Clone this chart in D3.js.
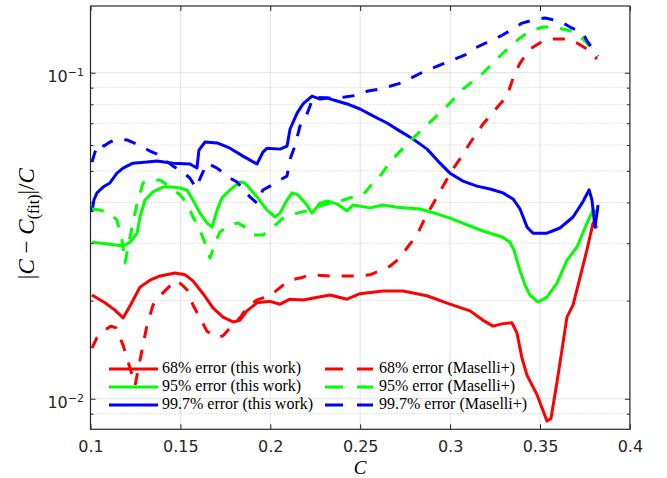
<!DOCTYPE html>
<html><head><meta charset="utf-8">
<script src="https://cdn.jsdelivr.net/npm/d3@7"></script>
<style>body{margin:0;background:#fff} svg{display:block}</style>
</head><body>
<svg id="chart" width="667" height="478"></svg>
<script>
// ---------------- data ----------------
const xTicks = [0.1, 0.15, 0.2, 0.25, 0.3, 0.35, 0.4];
const xTickLabels = ["0.1", "0.15", "0.2", "0.25", "0.3", "0.35", "0.4"];
const yMajorTicks = [0.01, 0.1];
const yMajorExponents = ["\u22122", "\u22121"];
const yMinorTicks = [0.009, 0.02, 0.03, 0.04, 0.05, 0.06, 0.07, 0.08, 0.09];

const red68This = [[0.1008,0.0208],[0.108,0.0197],[0.1136,0.0187],[0.1181,0.0177],[0.1225,0.0195],[0.1275,0.0220],[0.1331,0.0231],[0.1387,0.0238],[0.147,0.0243],[0.1526,0.0240],[0.157,0.0230],[0.1626,0.0210],[0.1681,0.0190],[0.1737,0.0178],[0.1793,0.0172],[0.1831,0.0174],[0.187,0.0186],[0.1926,0.0197],[0.1998,0.0199],[0.2054,0.0195],[0.211,0.0202],[0.2182,0.0201],[0.2332,0.0208],[0.2427,0.0202],[0.2499,0.0210],[0.2627,0.0214],[0.2738,0.0214],[0.2871,0.0207],[0.2999,0.0195],[0.3111,0.0186],[0.3183,0.0174],[0.3239,0.0167],[0.3294,0.0170],[0.3344,0.0171],[0.3372,0.0159],[0.34,0.0133],[0.3428,0.0118],[0.3483,0.0103],[0.3539,0.00854],[0.3561,0.0087],[0.3594,0.0112],[0.3622,0.0141],[0.365,0.0178],[0.3684,0.0194],[0.3723,0.0236],[0.3761,0.0286],[0.3795,0.0346],[0.3817,0.0334]];

const red68Maselli = [[0.1008,0.0143],[0.1036,0.0154],[0.1075,0.0162],[0.1114,0.0167],[0.1142,0.0165],[0.1181,0.0146],[0.122,0.0124],[0.1248,0.0110],[0.1275,0.0131],[0.1314,0.0168],[0.1348,0.0194],[0.1387,0.0207],[0.1442,0.0222],[0.1481,0.0231],[0.1537,0.0216],[0.157,0.0194],[0.1609,0.0177],[0.1648,0.0161],[0.1704,0.0154],[0.1737,0.0156],[0.1776,0.0165],[0.1831,0.0177],[0.187,0.0190],[0.1926,0.0201],[0.1998,0.0207],[0.2071,0.0223],[0.211,0.0231],[0.2182,0.0236],[0.2221,0.0240],[0.2332,0.0238],[0.2482,0.0238],[0.2554,0.0240],[0.261,0.0247],[0.2665,0.0255],[0.2721,0.0270],[0.276,0.0290],[0.2816,0.0318],[0.286,0.0358],[0.2927,0.0416],[0.2983,0.0472],[0.3016,0.0507],[0.3055,0.0544],[0.3111,0.0609],[0.3183,0.0696],[0.3278,0.0802],[0.3317,0.0848],[0.335,0.0963],[0.3389,0.1071],[0.3444,0.1182],[0.3517,0.1251],[0.3556,0.1269],[0.365,0.1269],[0.3706,0.1233],[0.3761,0.1182],[0.3817,0.1102]];

const green95This = [[0.1008,0.0302],[0.1108,0.0298],[0.1181,0.0294],[0.122,0.0302],[0.1259,0.0322],[0.1275,0.0361],[0.1303,0.0407],[0.1348,0.0431],[0.1403,0.0446],[0.1453,0.0446],[0.1498,0.0443],[0.1537,0.0437],[0.157,0.0407],[0.1609,0.0371],[0.1648,0.0346],[0.1676,0.0336],[0.1704,0.0379],[0.1731,0.0413],[0.1776,0.0437],[0.1831,0.0462],[0.1859,0.0459],[0.1926,0.0416],[0.1982,0.0379],[0.2026,0.0361],[0.2054,0.0371],[0.2093,0.0407],[0.2121,0.0428],[0.2154,0.0422],[0.2204,0.0393],[0.2232,0.0371],[0.2276,0.0398],[0.2315,0.0404],[0.2371,0.0396],[0.2427,0.0377],[0.246,0.0393],[0.2555,0.0385],[0.2627,0.0393],[0.2705,0.0387],[0.2833,0.0382],[0.2927,0.0369],[0.2999,0.0358],[0.3055,0.0348],[0.3183,0.0327],[0.3294,0.0313],[0.3333,0.0302],[0.3355,0.0286],[0.3389,0.0247],[0.3417,0.0223],[0.3444,0.0208],[0.3489,0.0198],[0.3539,0.0205],[0.3594,0.0226],[0.365,0.0266],[0.3706,0.0292],[0.3761,0.0346],[0.3795,0.0379],[0.3812,0.0374]];

const green95Maselli = [[0.1008,0.0382],[0.1053,0.0379],[0.1108,0.0371],[0.1147,0.0353],[0.1175,0.0307],[0.1192,0.0261],[0.1209,0.0292],[0.1231,0.0336],[0.1259,0.0398],[0.1292,0.0459],[0.1331,0.0469],[0.1387,0.0469],[0.1442,0.0446],[0.1498,0.0422],[0.1537,0.0398],[0.157,0.0361],[0.1609,0.0329],[0.1637,0.0300],[0.1665,0.0270],[0.1692,0.0300],[0.172,0.0325],[0.1776,0.0341],[0.182,0.0346],[0.1859,0.0336],[0.1904,0.0318],[0.1959,0.0318],[0.2015,0.0336],[0.2071,0.0358],[0.2149,0.0371],[0.2221,0.0379],[0.2293,0.0393],[0.2371,0.0401],[0.2443,0.0413],[0.2516,0.0422],[0.2571,0.0459],[0.261,0.0482],[0.2666,0.0532],[0.2766,0.0609],[0.2877,0.0696],[0.2972,0.0779],[0.3072,0.0891],[0.3183,0.0998],[0.3294,0.1149],[0.3389,0.1278],[0.3444,0.1342],[0.3517,0.1381],[0.3572,0.1381],[0.365,0.1352],[0.3706,0.1324],[0.3761,0.1233],[0.3817,0.1125]];

const blue997This = [[0.1008,0.0374],[0.1019,0.0407],[0.1036,0.0428],[0.107,0.0446],[0.1108,0.0459],[0.1147,0.0492],[0.1181,0.0510],[0.1236,0.0528],[0.1314,0.0532],[0.137,0.0536],[0.1459,0.0528],[0.1553,0.0525],[0.1592,0.0510],[0.1603,0.0579],[0.1637,0.0613],[0.1704,0.0609],[0.1776,0.0587],[0.1848,0.0555],[0.1926,0.0525],[0.1959,0.0571],[0.1982,0.0587],[0.2054,0.0583],[0.2093,0.0596],[0.211,0.0672],[0.2149,0.0752],[0.2182,0.0802],[0.2232,0.0848],[0.2277,0.0830],[0.2316,0.0836],[0.2371,0.0819],[0.2427,0.0802],[0.2499,0.0774],[0.2571,0.0737],[0.2649,0.0701],[0.2721,0.0662],[0.2794,0.0626],[0.2872,0.0583],[0.2944,0.0528],[0.2999,0.0492],[0.3072,0.0465],[0.3149,0.0449],[0.3222,0.0440],[0.3294,0.0428],[0.335,0.0410],[0.3389,0.0382],[0.3428,0.0336],[0.3461,0.0322],[0.3539,0.0322],[0.3611,0.0334],[0.3684,0.0361],[0.3734,0.0398],[0.3773,0.0437],[0.3789,0.0407],[0.3806,0.0336],[0.3823,0.0393]];

const blue997Maselli = [[0.1008,0.0532],[0.1025,0.0571],[0.1053,0.0609],[0.1075,0.0596],[0.1108,0.0613],[0.1153,0.0626],[0.1203,0.0622],[0.1259,0.0604],[0.1331,0.0575],[0.137,0.0563],[0.1459,0.0517],[0.1514,0.0496],[0.1553,0.0475],[0.1587,0.0443],[0.1615,0.0482],[0.1648,0.0528],[0.1704,0.0510],[0.1776,0.0475],[0.1815,0.0462],[0.1887,0.0416],[0.1926,0.0398],[0.1959,0.0437],[0.1998,0.0449],[0.2054,0.0469],[0.2093,0.0482],[0.211,0.0544],[0.2137,0.0596],[0.2165,0.0686],[0.2193,0.0721],[0.2221,0.0791],[0.2237,0.0842],[0.2332,0.0836],[0.2415,0.0842],[0.2488,0.0854],[0.2543,0.0879],[0.261,0.0891],[0.2727,0.0930],[0.2849,0.1005],[0.2972,0.1071],[0.3094,0.1141],[0.3127,0.1182],[0.3222,0.1251],[0.3261,0.1278],[0.335,0.1361],[0.34,0.1420],[0.3483,0.1461],[0.3528,0.1471],[0.3611,0.1440],[0.3667,0.1381],[0.3739,0.1324],[0.3761,0.1251],[0.3795,0.1182],[0.3823,0.1125]];

const legendLabels = ["68% error (this work)", "95% error (this work)", "99.7% error (this work)",
                      "68% error (Maselli+)", "95% error (Maselli+)", "99.7% error (Maselli+)"];

// ---------------- chart ----------------
const W = 667, H = 478;
const P = {left: 90.5, right: 629.9, top: 6, bottom: 429.3};
const svg = d3.select("#chart");
svg.append("rect").attr("width", W).attr("height", H).attr("fill", "#fff");

const x = d3.scaleLinear().domain([0.1, 0.4]).range([P.left, P.right]);
const y = d3.scaleLog().domain([0.00806, 0.1602]).range([P.bottom, P.top]);

const series = [
  {data: red68This, color: "#ff0000", dashed: false},
  {data: green95This, color: "#00ff00", dashed: false},
  {data: blue997This, color: "#0000ff", dashed: false},
  {data: red68Maselli, color: "#ff0000", dashed: true},
  {data: green95Maselli, color: "#00ff00", dashed: true},
  {data: blue997Maselli, color: "#0000ff", dashed: true}
];

// grid
const grid = svg.append("g");
grid.selectAll("line.xg").data(xTicks.slice(1, -1)).join("line")
  .attr("x1", d => x(d)).attr("x2", d => x(d)).attr("y1", P.top).attr("y2", P.bottom)
  .attr("stroke", "#e3e3e3").attr("stroke-width", 1);
grid.selectAll("line.ymg").data(yMinorTicks).join("line")
  .attr("x1", P.left).attr("x2", P.right).attr("y1", d => y(d)).attr("y2", d => y(d))
  .attr("stroke", "#d2d2d2").attr("stroke-width", 0.8).attr("stroke-dasharray", "1.5,1.5");
grid.selectAll("line.yMg").data(yMajorTicks).join("line")
  .attr("x1", P.left).attr("x2", P.right).attr("y1", d => y(d)).attr("y2", d => y(d))
  .attr("stroke", "#e3e3e3").attr("stroke-width", 1);

// clip
svg.append("clipPath").attr("id", "clip").append("rect")
  .attr("x", P.left).attr("y", P.top).attr("width", P.right - P.left).attr("height", P.bottom - P.top);

const line = d3.line().x(d => x(d[0])).y(d => y(d[1]));
const lines = svg.append("g").attr("clip-path", "url(#clip)");
series.forEach(s => {
  lines.append("path").attr("d", line(s.data)).attr("fill", "none")
    .attr("stroke", s.color).attr("stroke-width", 3)
    .attr("stroke-linejoin", "round")
    .attr("stroke-dasharray", s.dashed ? "12,12" : null);
});

// axes
const axisColor = "#262626";
const fontTick = "DejaVu Sans, sans-serif";
const gx = svg.append("g").attr("transform", `translate(0,${P.bottom})`)
  .call(d3.axisBottom(x).tickValues(xTicks).tickFormat((d, i) => xTickLabels[i])
    .tickSizeInner(-5).tickSizeOuter(0).tickPadding(11));
const gxTop = svg.append("g").attr("transform", `translate(0,${P.top})`)
  .call(d3.axisTop(x).tickValues(xTicks).tickFormat("").tickSizeInner(-5).tickSizeOuter(0));
const gy = svg.append("g").attr("transform", `translate(${P.left},0)`)
  .call(d3.axisLeft(y).tickValues(yMajorTicks).tickFormat("").tickSizeInner(-5).tickSizeOuter(0));
const gyMinor = svg.append("g").attr("transform", `translate(${P.left},0)`)
  .call(d3.axisLeft(y).tickValues(yMinorTicks).tickFormat("").tickSizeInner(-3).tickSizeOuter(0));
const gyR = svg.append("g").attr("transform", `translate(${P.right},0)`)
  .call(d3.axisRight(y).tickValues(yMajorTicks).tickFormat("").tickSizeInner(-5).tickSizeOuter(0));
const gyRMinor = svg.append("g").attr("transform", `translate(${P.right},0)`)
  .call(d3.axisRight(y).tickValues(yMinorTicks).tickFormat("").tickSizeInner(-3).tickSizeOuter(0));
[gx, gxTop, gy, gyMinor, gyR, gyRMinor].forEach(g => {
  g.select(".domain").remove();
  g.selectAll(".tick line").attr("stroke", axisColor).attr("stroke-width", 1);
});
gx.selectAll(".tick text").attr("font-family", fontTick).attr("font-size", 16).attr("fill", axisColor);

// y tick labels with superscripts
const ylab = svg.append("g");
yMajorTicks.forEach((v, i) => {
  const t = ylab.append("text").attr("x", 84).attr("y", y(v) + 9)
    .attr("text-anchor", "end").attr("font-family", fontTick).attr("fill", axisColor);
  t.append("tspan").attr("font-size", 16).text("10");
  t.append("tspan").attr("font-size", 11).attr("dy", -6).text(yMajorExponents[i]);
});

// box
svg.append("rect").attr("x", P.left).attr("y", P.top)
  .attr("width", P.right - P.left).attr("height", P.bottom - P.top)
  .attr("fill", "none").attr("stroke", axisColor).attr("stroke-width", 1.2);

// axis labels
const serif = "Liberation Serif, DejaVu Serif, serif";
svg.append("text").attr("x", (P.left + P.right) / 2).attr("y", 473.5)
  .attr("text-anchor", "middle").attr("font-family", serif).attr("font-style", "italic")
  .attr("font-size", 19).attr("fill", "#000").text("C");

const yl = svg.append("text").attr("transform", `translate(34,${(P.top + P.bottom) / 2 + 6}) rotate(-90)`)
  .attr("text-anchor", "middle").attr("font-family", serif).attr("font-size", 23).attr("fill", "#000");
yl.append("tspan").text("|");
yl.append("tspan").attr("font-style", "italic").text("C");
yl.append("tspan").text(" \u2212 ");
yl.append("tspan").attr("font-style", "italic").text("C");
yl.append("tspan").attr("font-size", 16).attr("dy", 5).text("(fit)");
yl.append("tspan").attr("dy", -5).text("|/");
yl.append("tspan").attr("font-style", "italic").text("C");

// legend
const leg = svg.append("g");
const rowY = [369, 387, 405];
series.forEach((s, i) => {
  const col = i < 3 ? 0 : 1, row = i % 3;
  const yy = rowY[row];
  if (col === 0) {
    leg.append("line").attr("x1", 109).attr("x2", 158).attr("y1", yy).attr("y2", yy)
      .attr("stroke", s.color).attr("stroke-width", 3);
  } else {
    [[325, 343], [357, 373]].forEach(([a, b]) => {
      leg.append("line").attr("x1", a).attr("x2", b).attr("y1", yy).attr("y2", yy)
        .attr("stroke", s.color).attr("stroke-width", 3);
    });
  }
  leg.append("text").attr("x", col === 0 ? 162 : 379).attr("y", yy + 4)
    .attr("font-family", serif).attr("font-size", 16).attr("fill", "#000")
    .text(legendLabels[i]);
});
</script>
</body></html>
